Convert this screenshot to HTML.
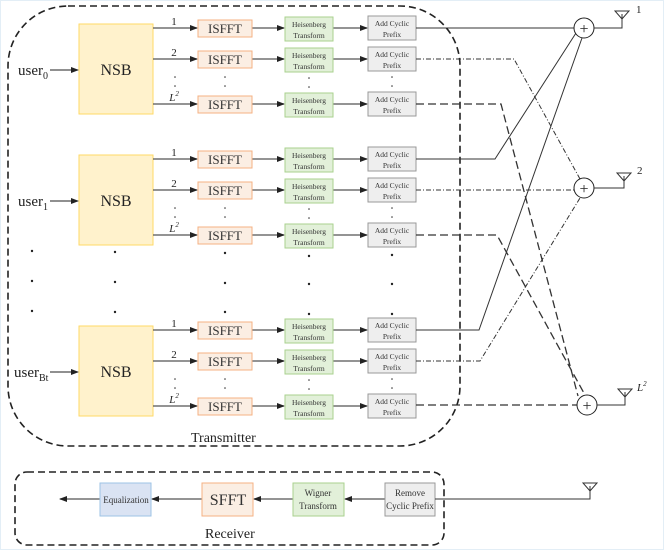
<!DOCTYPE html>
<html><head><meta charset="utf-8"><style>
html,body{margin:0;padding:0;background:#fff;}
svg{display:block;font-family:"Liberation Serif",serif;}
</style></head><body>
<svg width="664" height="550" viewBox="0 0 664 550" xmlns="http://www.w3.org/2000/svg">
<defs>
<marker id="a" markerWidth="8" markerHeight="6" refX="7" refY="3" orient="auto" markerUnits="userSpaceOnUse"><path d="M0,0 L8,3 L0,6 z" fill="#222"/></marker>
<g id="grp">
  <rect x="79" y="-4" width="74" height="90" fill="#fff2cc" stroke="#ffd966" stroke-width="1"/>
  <text x="116" y="47" font-size="16" text-anchor="middle" fill="#222">NSB</text>
  <g stroke="#555" stroke-width="1.2" fill="none" marker-end="url(#a)">
    <line x1="153" y1="0" x2="197" y2="0"/><line x1="252" y1="0" x2="284" y2="0"/><line x1="333" y1="0" x2="367" y2="0"/>
    <line x1="153" y1="31" x2="197" y2="31"/><line x1="252" y1="31" x2="284" y2="31"/><line x1="333" y1="31" x2="367" y2="31"/>
    <line x1="153" y1="76" x2="197" y2="76"/><line x1="252" y1="76" x2="284" y2="76"/><line x1="333" y1="76" x2="367" y2="76"/>
  </g>
  <g font-size="11" fill="#222" text-anchor="middle">
    <text x="174" y="-3">1</text><text x="174" y="28">2</text>
    <text x="174" y="73" font-style="italic">L<tspan font-size="7" dy="-5">2</tspan></text>
  </g>
  <g fill="#fbeee3" stroke="#f4b183">
    <rect x="198" y="-8" width="54" height="17"/><rect x="198" y="23" width="54" height="17"/><rect x="198" y="68" width="54" height="17"/>
  </g>
  <g font-size="13" fill="#333" text-anchor="middle">
    <text x="225" y="5">ISFFT</text><text x="225" y="36">ISFFT</text><text x="225" y="81">ISFFT</text>
  </g>
  <g fill="#e2f0d9" stroke="#a9d18e">
    <rect x="285" y="-11" width="48" height="24"/><rect x="285" y="20" width="48" height="24"/><rect x="285" y="65" width="48" height="24"/>
  </g>
  <g fill="#eeeeee" stroke="#999">
    <rect x="368" y="-12" width="48" height="24"/><rect x="368" y="19" width="48" height="24"/><rect x="368" y="64" width="48" height="24"/>
  </g>
  <g font-size="7.5" fill="#333" text-anchor="middle">
    <text x="309" y="-1">Heisenberg</text><text x="309" y="10">Transform</text>
    <text x="309" y="30">Heisenberg</text><text x="309" y="41">Transform</text>
    <text x="309" y="75">Heisenberg</text><text x="309" y="86">Transform</text>
    <text x="392" y="-2">Add Cyclic</text><text x="392" y="9">Prefix</text>
    <text x="392" y="29">Add Cyclic</text><text x="392" y="40">Prefix</text>
    <text x="392" y="74">Add Cyclic</text><text x="392" y="85">Prefix</text>
  </g>
  <g fill="#333">
    <circle cx="175" cy="49" r="0.8"/><circle cx="175" cy="58" r="0.8"/>
    <circle cx="225" cy="49" r="0.8"/><circle cx="225" cy="58" r="0.8"/>
    <circle cx="309" cy="50" r="0.8"/><circle cx="309" cy="59" r="0.8"/>
    <circle cx="392" cy="49" r="0.8"/><circle cx="392" cy="58" r="0.8"/>
  </g>
  <line x1="50" y1="42" x2="78" y2="42" stroke="#222" stroke-width="1" marker-end="url(#a)"/>
</g>
</defs>
<rect x="0.5" y="0.5" width="663" height="549" fill="#fff" stroke="#e3eef6"/>
<!-- Transmitter boundary -->
<rect x="8" y="6" width="452" height="440" rx="60" ry="60" fill="none" stroke="#222" stroke-width="1.6" stroke-dasharray="7,4"/>
<use href="#grp" transform="translate(0,28)"/>
<use href="#grp" transform="translate(0,159)"/>
<use href="#grp" transform="translate(0,330)"/>
<g font-size="15" fill="#222">
<text x="18" y="75">user<tspan font-size="10" dy="4">0</tspan></text>
<text x="18" y="206">user<tspan font-size="10" dy="4">1</tspan></text>
<text x="14" y="377">user<tspan font-size="10" dy="4">Bt</tspan></text>
</g>
<g fill="#222">
<circle cx="32" cy="251" r="1.2"/><circle cx="32" cy="281" r="1.2"/><circle cx="32" cy="311" r="1.2"/>
<circle cx="115" cy="252" r="1.2"/><circle cx="115" cy="282" r="1.2"/><circle cx="115" cy="312" r="1.2"/>
<circle cx="225" cy="253" r="1.2"/><circle cx="225" cy="283" r="1.2"/><circle cx="225" cy="312" r="1.2"/>
<circle cx="309" cy="256" r="1.2"/><circle cx="309" cy="284" r="1.2"/><circle cx="309" cy="314" r="1.2"/>
<circle cx="392" cy="255" r="1.2"/><circle cx="392" cy="284" r="1.2"/><circle cx="392" cy="314" r="1.2"/>
</g>
<text x="191" y="442" font-size="14" fill="#222">Transmitter</text>
<!-- connections -->
<g fill="none" stroke="#333" stroke-width="1">
<polyline points="416,28 574,28"/>
<polyline points="416,159 495,159 576,33"/>
<polyline points="416,330 479,330 582,38"/>
</g>
<g fill="none" stroke="#333" stroke-width="1" stroke-dasharray="5,2,1,2">
<polyline points="416,59 514,59 580,179"/>
<polyline points="416,190 574,190"/>
<polyline points="416,361 480,361 580,198"/>
</g>
<g fill="none" stroke="#333" stroke-width="1.3" stroke-dasharray="8,4">
<polyline points="416,104 501,104 578,396"/>
<polyline points="416,235 497,235 585,395"/>
<polyline points="416,405 577,405"/>
</g>
<!-- summers -->
<g fill="#fff" stroke="#222" stroke-width="1">
<circle cx="584" cy="28" r="10"/><circle cx="584" cy="188" r="10"/><circle cx="587" cy="405" r="10"/>
</g>
<g font-size="16" fill="#222" text-anchor="middle">
<text x="584" y="34">+</text><text x="584" y="194">+</text><text x="587" y="411">+</text>
</g>
<!-- antennas -->
<g fill="none" stroke="#333" stroke-width="1">
<polyline points="594,28 622,28 622,14"/><path d="M615,11 L629,11 L622,19 Z"/>
<polyline points="594,188 624,188 624,176"/><path d="M617,173 L631,173 L624,181 Z"/>
<polyline points="597,405 625,405 625,392"/><path d="M618,389 L632,389 L625,397 Z"/>
</g>
<g font-size="11" fill="#222">
<text x="636" y="13">1</text><text x="637" y="174">2</text>
<text x="637" y="391" font-style="italic">L<tspan font-size="7" dy="-5">2</tspan></text>
</g>
<!-- Receiver -->
<rect x="15" y="472" width="429" height="73" rx="12" ry="12" fill="none" stroke="#222" stroke-width="1.6" stroke-dasharray="7,4"/>
<g stroke="#555" stroke-width="1.2" fill="none" marker-end="url(#a)">
<line x1="385" y1="499" x2="345" y2="499"/>
<line x1="293" y1="499" x2="254" y2="499"/>
<line x1="202" y1="499" x2="152" y2="499"/>
<line x1="100" y1="499" x2="60" y2="499"/>
</g>
<rect x="385" y="483" width="50" height="33" fill="#eeeeee" stroke="#999"/>
<rect x="293" y="483" width="51" height="33" fill="#e2f0d9" stroke="#a9d18e"/>
<rect x="202" y="483" width="51" height="33" fill="#fbeee3" stroke="#f4b183"/>
<rect x="100" y="483" width="51" height="33" fill="#dae3f3" stroke="#9dc3e6"/>
<g font-size="9" fill="#333" text-anchor="middle">
<text x="410" y="496">Remove</text><text x="410" y="509">Cyclic Prefix</text>
<text x="318" y="496">Wigner</text><text x="318" y="509">Transform</text>
<text x="126" y="503">Equalization</text>
</g>
<text x="228" y="505" font-size="16" fill="#333" text-anchor="middle">SFFT</text>
<g fill="none" stroke="#333" stroke-width="1">
<polyline points="435,499 590,499 590,486"/><path d="M583,483 L597,483 L590,491 Z"/>
</g>
<text x="205" y="538" font-size="14" fill="#222">Receiver</text>
</svg>
</body></html>
